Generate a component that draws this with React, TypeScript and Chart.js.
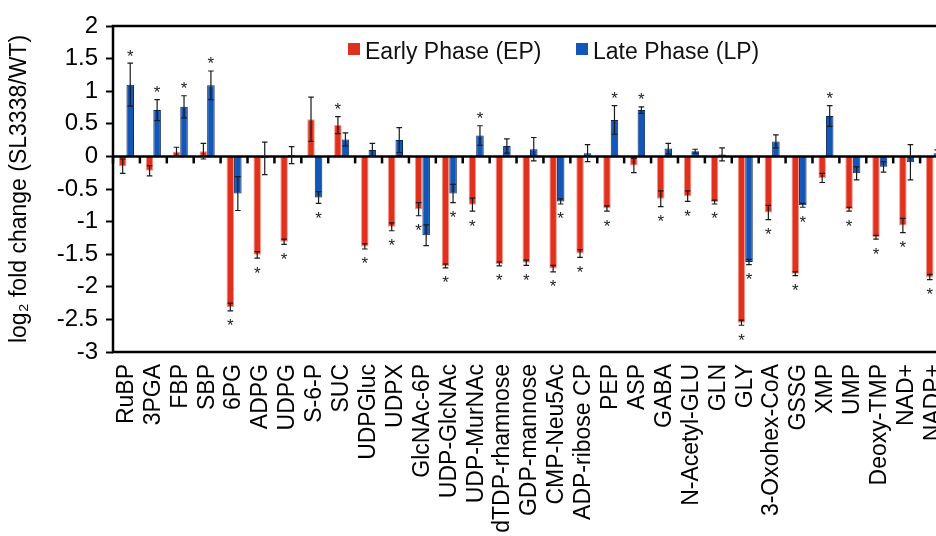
import React, { useEffect, useRef } from 'react';
import { Chart, registerables } from 'chart.js';

Chart.register(...registerables);

const categories = [
  'RuBP', '3PGA', 'FBP', 'SBP', '6PG', 'ADPG', 'UDPG', 'S-6-P', 'SUC', 'UDPGluc', 'UDPX',
  'GlcNAc-6P', 'UDP-GlcNAc', 'UDP-MurNAc', 'dTDP-rhamnose', 'GDP-mannose', 'CMP-Neu5Ac',
  'ADP-ribose CP', 'PEP', 'ASP', 'GABA', 'N-Acetyl-GLU', 'GLN', 'GLY', '3-Oxohex-CoA',
  'GSSG', 'XMP', 'UMP', 'Deoxy-TMP', 'NAD+', 'NADP+',
];

const earlyPhase = [
  -0.15, -0.22, 0.07, 0.08, -2.31, -1.51, -1.31, 0.57, 0.48, -1.38, -1.08,
  -0.81, -1.68, -0.74, -1.65, -1.63, -1.72, -1.49, -0.8, -0.14, -0.65,
  -0.61, -0.7, -2.55, -0.86, -1.8, -0.33, -0.81, -1.24, -1.06, -1.85,
];
const earlyErr = [
  0.11, 0.08, 0.07, 0.12, 0.06, 0.05, 0.04, 0.34, 0.13, 0.04, 0.06,
  0.1, 0.03, 0.1, 0.03, 0.04, 0.05, 0.06, 0.04, 0.11, 0.12,
  0.08, 0.03, 0.04, 0.11, 0.03, 0.07, 0.03, 0.03, 0.11, 0.04,
];
const earlySig = [
  0, 0, 0, 0, 1, 1, 1, 0, 1, 1, 1,
  1, 1, 1, 1, 1, 1, 1, 1, 0, 1,
  1, 1, 1, 1, 1, 0, 1, 1, 1, 1,
];

const latePhase = [
  1.1, 0.71, 0.76, 1.09, -0.57, -0.03, 0.02, -0.63, 0.26, 0.1, 0.25,
  -1.21, -0.57, 0.32, 0.16, 0.11, -0.69, 0.05, 0.56, 0.71, 0.12,
  0.08, 0.03, -1.62, 0.23, -0.75, 0.62, -0.26, -0.16, -0.09, 0.05,
];
const lateErr = [
  0.33, 0.16, 0.17, 0.22, 0.26, 0.25, 0.13, 0.09, 0.1, 0.1, 0.19,
  0.16, 0.14, 0.15, 0.11, 0.18, 0.04, 0.13, 0.22, 0.05, 0.08,
  0.03, 0.1, 0.04, 0.1, 0.03, 0.16, 0.1, 0.08, 0.27, 0.05,
];
const lateSig = [
  1, 1, 1, 1, 0, 0, 0, 1, 0, 0, 0,
  0, 1, 1, 0, 0, 1, 0, 1, 1, 0,
  0, 0, 1, 0, 1, 1, 0, 0, 0, 0,
];

const seriesNames = ['Early Phase (EP)', 'Late Phase (LP)'];
const yTicks = { min: -3, max: 2, step: 0.5 };

const RED = '#E0301E';
const BLUE = '#1257B8';
const FONT = '"Liberation Sans", Arial, sans-serif';

export default function App() {
  const ref = useRef<HTMLCanvasElement>(null);

  useEffect(() => {
    document.body.style.margin = '0';
    document.body.style.overflow = 'hidden';
    const canvas = ref.current;
    if (!canvas) return;

    const values = [earlyPhase, latePhase];
    const errs = [earlyErr, lateErr];
    const sigs = [earlySig, lateSig];
    const colors = [RED, BLUE];

    const decoPlugin = {
      id: 'deco',
      afterDatasetsDraw(chart: any) {
        const ctx = chart.ctx;
        const ys = chart.scales.y;
        const xs = chart.scales.x;
        const area = chart.chartArea;
        ctx.save();
        const y0 = ys.getPixelForValue(0);
        ctx.strokeStyle = '#000';
        ctx.lineWidth = 2.5;
        ctx.beginPath();
        ctx.moveTo(area.left, y0);
        ctx.lineTo(area.right, y0);
        ctx.stroke();
        const half = (xs.getPixelForValue(1) - xs.getPixelForValue(0)) / 2;
        ctx.fillStyle = '#000';
        for (let i = 0; i <= categories.length; i++) {
          const px = xs.getPixelForValue(0) + (2 * i - 1) * half;
          ctx.fillRect(px - 1.25, y0, 2.5, 7);
        }
        for (let d = 0; d < 2; d++) {
          const meta = chart.getDatasetMeta(d);
          meta.data.forEach((bar: any, i: number) => {
            const v = values[d][i];
            const e = errs[d][i];
            const yTop = ys.getPixelForValue(v + e);
            const yBot = ys.getPixelForValue(v - e);
            ctx.strokeStyle = '#1a1a1a';
            ctx.lineWidth = 1.2;
            ctx.beginPath();
            ctx.moveTo(bar.x, yTop);
            ctx.lineTo(bar.x, yBot);
            ctx.moveTo(bar.x - 2.8, yTop);
            ctx.lineTo(bar.x + 2.8, yTop);
            ctx.moveTo(bar.x - 2.8, yBot);
            ctx.lineTo(bar.x + 2.8, yBot);
            ctx.stroke();
            if (sigs[d][i]) {
              ctx.fillStyle = '#222';
              ctx.font = `17px ${FONT}`;
              ctx.textAlign = 'center';
              ctx.textBaseline = 'alphabetic';
              const cy = v >= 0 ? yTop - 11 : yBot + 11;
              ctx.fillText('*', bar.x, cy + 9.5);
            }
          });
        }
        ctx.strokeStyle = '#000';
        ctx.lineWidth = 2.5;
        ctx.strokeRect(area.left, area.top, area.right - area.left, area.bottom - area.top);
        ctx.restore();
      },
      afterDraw(chart: any) {
        const ctx = chart.ctx;
        ctx.save();
        ctx.font = `23px ${FONT}`;
        ctx.textBaseline = 'alphabetic';
        ctx.textAlign = 'left';
        const items = [
          { x: 348, color: colors[0], text: seriesNames[0] },
          { x: 576, color: colors[1], text: seriesNames[1] },
        ];
        items.forEach((it) => {
          ctx.fillStyle = it.color;
          ctx.fillRect(it.x, 43, 12, 12);
          ctx.fillStyle = '#111';
          ctx.fillText(it.text, it.x + 17, 59);
        });
        ctx.restore();
      },
    };

    const chart = new Chart(canvas, {
      type: 'bar',
      data: {
        labels: categories,
        datasets: [
          {
            label: seriesNames[0],
            data: earlyPhase,
            backgroundColor: RED,
            borderColor: 'rgba(245,140,125,0.9)',
            borderWidth: 1,
            categoryPercentage: 0.56,
            barPercentage: 1,
          },
          {
            label: seriesNames[1],
            data: latePhase,
            backgroundColor: BLUE,
            borderColor: '#0B2A55',
            borderWidth: 1,
            categoryPercentage: 0.56,
            barPercentage: 1,
          },
        ],
      },
      options: {
        animation: false,
        responsive: false,
        devicePixelRatio: 1,
        layout: { padding: { top: 26, right: 33, left: 0, bottom: 0 } },
        plugins: {
          legend: { display: false },
          tooltip: { enabled: false },
        },
        scales: {
          x: {
            grid: { display: false, drawTicks: false },
            border: { display: false },
            ticks: {
              color: '#000',
              font: { family: FONT, size: 23 },
              minRotation: 90,
              maxRotation: 90,
              autoSkip: false,
              padding: 12,
            },
            afterFit: (s: any) => {
              s.height = 184;
            },
          },
          y: {
            min: yTicks.min,
            max: yTicks.max,
            ticks: {
              stepSize: yTicks.step,
              color: '#000',
              font: { family: FONT, size: 24 },
              padding: 8,
              callback: (v: any) => String(Number(v)),
            },
            grid: {
              color: 'rgba(0,0,0,0)',
              drawTicks: true,
              tickLength: 7,
              tickColor: '#000',
              tickWidth: 2,
            },
            border: { display: false },
            title: {
              display: true,
              text: 'log₂ fold change (SL3338/WT)',
              color: '#000',
              font: { family: FONT, size: 23 },
              padding: { top: 6, bottom: 0 },
            },
            afterFit: (s: any) => {
              s.width = 113;
            },
          },
        },
      },
      plugins: [decoPlugin],
    });

    return () => chart.destroy();
  }, []);

  return (
    <div style={{ width: 936, height: 536, overflow: 'hidden', position: 'relative', background: '#fff' }}>
      <canvas ref={ref} width={980} height={536} style={{ display: 'block' }} />
    </div>
  );
}
